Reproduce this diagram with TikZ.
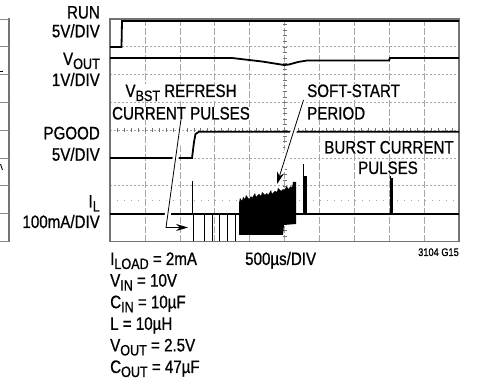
\documentclass[tikz,border=0pt]{standalone}
\usepackage{fontspec}
\setmainfont{Liberation Sans}[FakeStretch=0.84,FakeBold=0.8]
\usetikzlibrary{arrows.meta,calc}
\newcommand\bigf{\fontsize{18}{21.5}\selectfont}
\newcommand\smallf{\fontsize{11}{12}\selectfont}
\newcommand\lbsub[1]{\raisebox{-4pt}{\fontsize{15}{15}\selectfont #1}}
\begin{document}
\begin{tikzpicture}[x=1pt,y=-1pt,
  lbl/.style={font=\bigf, inner xsep=1pt, inner ysep=0.3pt, fill=white},
  gridv/.style={draw=black!35, line width=0.6pt, dash pattern=on 7pt off 2pt},
  gridh/.style={draw=black!35, line width=0.6pt, dash pattern=on 2pt off 2pt},
  frame/.style={draw=black!55, line width=1.3pt},
  trace/.style={draw=black, line width=1.8pt},
  thin/.style={draw=black, line width=0.8pt},
  halo/.style={draw=white, line width=6pt},
  pointer/.style={draw=black, line width=0.8pt, -{Stealth[length=12pt,width=7pt]}},
  tick/.style={draw=black!55, line width=0.5pt}]
\useasboundingbox (0,0) rectangle (477,379);
\fill[white] (0,0) rectangle (477,379);
% partial neighbouring graph at left
\draw[frame] (9,18) -- (9,242);
\foreach \k in {0,...,8} \draw[draw=black!45, line width=0.8pt] (0,{19+27.8*\k}) -- (9,{19+27.8*\k});
\draw[black, line width=1pt] (0,72) -- (3,72);
\draw[black, line width=0.8pt] (0.5,164) -- (2.5,170);
% grid
\foreach \k in {1,...,9} \draw[gridv] ({110+34.9*\k},19) -- ({110+34.9*\k},241.5);
\foreach \k in {1,...,7} \draw[gridh] (110,{19+27.8*\k}) -- (459,{19+27.8*\k});
\draw[gridh, dash pattern=on 1pt off 6pt] (110,200) -- (459,200);
% centre ticks
\foreach \k in {1,...,49} \draw[tick] ({110+6.98*\k},128.3) -- ({110+6.98*\k},132.3);
\foreach \k in {1,...,39} \draw[tick] (282.5,{19+5.56*\k}) -- (286.5,{19+5.56*\k});
% frame
\draw[frame] (110,19) rectangle (459,241.5);
% RUN trace
\draw[trace] (110,47) -- (121.5,47) -- (122,21) -- (459,21);
% VOUT trace
\draw[trace] (110,58) -- (232,58) -- (262,61.5) -- (284,65) -- (289,64.5) -- (298,62) -- (307,60.5) -- (389,60.5) -- (390,58) -- (459,58);
% PGOOD trace
\draw[trace] (110,158) -- (192,158) -- (194,142) -- (195.5,134) -- (199,131.8) -- (459,131.8);
% IL trace
\draw[trace] (110,214) -- (459,214);
\draw[thin] (192,214) -- (192,181);
\foreach \x in {193,204,212,219,227,235} \draw[thin] (\x,214) -- (\x,241);
\fill[black] (239,235) -- (239,203) -- (240,198) -- (242,201) -- (243,197) -- (245,199) -- (246,195) -- (249,199) -- (251,196) -- (252,198) -- (255,193) -- (256,197) -- (259,194) -- (261,196) -- (262,192) -- (265,195) -- (267,193) -- (268,195) -- (271,190) -- (272,194) -- (275,191) -- (277,192) -- (278,188) -- (281,191) -- (283,189) -- (284,190) -- (287,186) -- (288,189) -- (291,186) -- (292,188) -- (293,182) -- (296,182) -- (296,224) -- (284,225) -- (283,235) -- cycle;
\fill[black] (303,176) rectangle (307,214);
\draw[thin] (303.5,176) -- (303.5,164);
\fill[black] (390,178) rectangle (392.5,214);
\draw[thin] (390.5,178) -- (390.5,176);
% left labels
\node[lbl, anchor=base east] (run) at (101,18.5) {RUN};
\node[lbl, anchor=base east] (runsc) at (101,37.3) {5V/DIV};
\node[lbl, anchor=base east] (vout) at (101,65) {V\lbsub{OUT}};
\node[lbl, anchor=base east] (voutsc) at (101,86) {1V/DIV};
\node[lbl, anchor=base east] (pg) at (101,139.3) {PGOOD};
\node[lbl, anchor=base east] (pgsc) at (101,160.7) {5V/DIV};
\node[lbl, anchor=base east] (il) at (101,207.5) {I\lbsub{L}};
\node[lbl, anchor=base east] (ilsc) at (101,228) {100mA/DIV};
% in-plot labels
\node[lbl, anchor=base] (vb) at (181,97) {V\lbsub{BST} REFRESH};
\node[lbl, anchor=base] (cp) at (181,119.5) {CURRENT PULSES};
\node[lbl, anchor=base west] (ss) at (306,97) {SOFT-START};
\node[lbl, anchor=base west] (pd) at (306,119.5) {PERIOD};
\node[lbl, anchor=base] (bc) at (389,153.5) {BURST CURRENT};
\node[lbl, anchor=base] (bp) at (388,174) {PULSES};
% bottom
\node[lbl, anchor=base west] (p1) at (109,265) {I\lbsub{LOAD} = 2mA};
\node[lbl, anchor=base west] (p2) at (109,286.6) {V\lbsub{IN} = 10V};
\node[lbl, anchor=base west] (p3) at (109,308.2) {C\lbsub{IN} = 10µF};
\node[lbl, anchor=base west] (p4) at (109,329.8) {L = 10µH};
\node[lbl, anchor=base west] (p5) at (109,351.4) {V\lbsub{OUT} = 2.5V};
\node[lbl, anchor=base west] (p6) at (109,373) {C\lbsub{OUT} = 47µF};
\node[lbl, anchor=base west] (tb) at (244,265) {500µs/DIV};
\node[font=\smallf, inner sep=1pt, anchor=base east] (fig) at (460,256) {3104 G15};
% pointers
\coordinate (a1b) at (166,227.5);
\coordinate (a1t) at (188,227.5);
\coordinate (a2s) at (303.5,100);
\coordinate (a2t) at (277,184);
\draw[halo] ([yshift=1pt]cp.south) -- (a1b) -- ([xshift=-8pt]a1t);
\draw[halo] (a2s) -- ($(a2s)!0.88!(a2t)$);
\draw[pointer] ([yshift=1pt]cp.south) -- (a1b) -- (a1t);
\draw[pointer] (a2s) -- (a2t);
\end{tikzpicture}
\end{document}
